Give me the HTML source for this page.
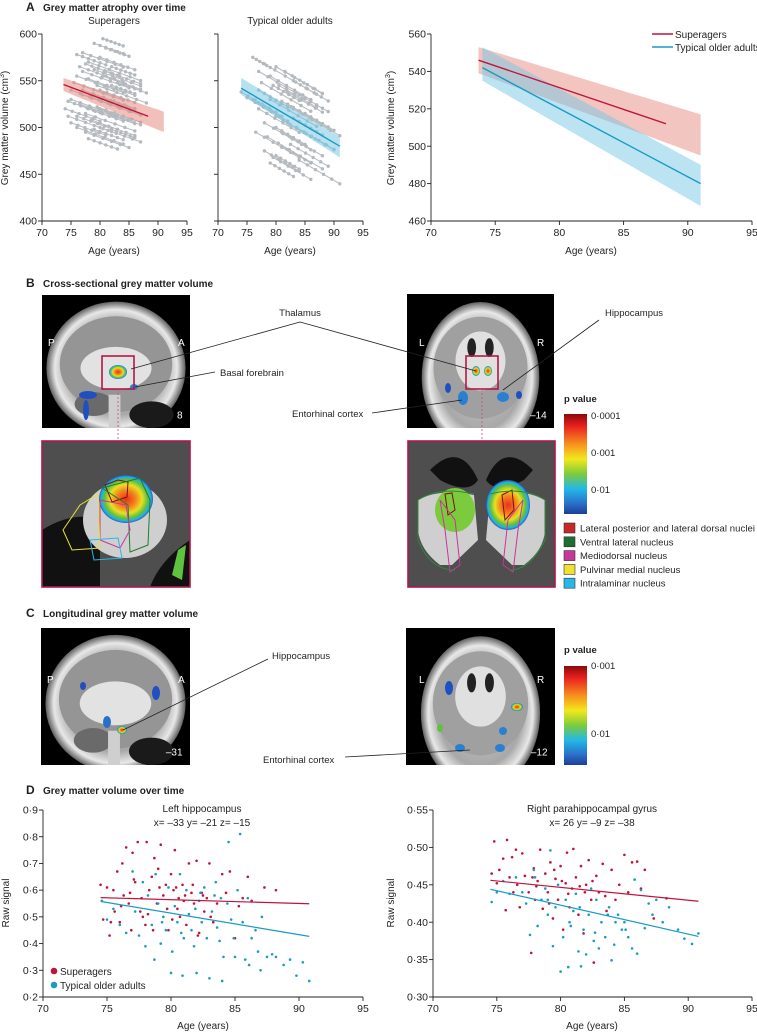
<!DOCTYPE html>
<html><head><meta charset="utf-8"><style>
html,body{margin:0;padding:0;background:#fff}
svg{display:block;font-family:"Liberation Sans",sans-serif}
</style></head><body>
<svg id="fig" width="757" height="1033" viewBox="0 0 757 1033" xmlns="http://www.w3.org/2000/svg">
<defs>
<linearGradient id="pbar" x1="0" y1="0" x2="0" y2="1">
<stop offset="0" stop-color="#8b0a0a"/><stop offset="0.12" stop-color="#e8201e"/><stop offset="0.3" stop-color="#f7901e"/><stop offset="0.45" stop-color="#f2e81c"/><stop offset="0.6" stop-color="#7ccb3c"/><stop offset="0.75" stop-color="#22b8e8"/><stop offset="0.9" stop-color="#2a6ec8"/><stop offset="1" stop-color="#1c3f96"/>
</linearGradient>
<radialGradient id="brainG" cx="0.5" cy="0.5" r="0.5">
<stop offset="0" stop-color="#d0d0d0"/><stop offset="0.7" stop-color="#a8a8a8"/><stop offset="0.88" stop-color="#e8e8e8"/><stop offset="1" stop-color="#606060"/>
</radialGradient>
<radialGradient id="heat" cx="0.5" cy="0.5" r="0.5">
<stop offset="0" stop-color="#e8301e"/><stop offset="0.35" stop-color="#f6801e"/><stop offset="0.6" stop-color="#e8e020"/><stop offset="0.8" stop-color="#60c040"/><stop offset="0.92" stop-color="#20b0e0"/><stop offset="1" stop-color="#2050c0" stop-opacity="0.9"/>
</radialGradient>
</defs>
<g id="root"></g>
</svg>
<script>
// ---------- data ----------
const ageTicks = [70,75,80,85,90,95];
const aLeftTicks = [400,450,500,550,600];
const aRightTicks = [460,480,500,520,540,560];
const superFit = [[73.7,546],[88.3,512]];
const superBandLow = [[73.7,539],[91,495]];
const superBandHigh = [[73.7,553],[91,517]];
const typFit = [[74,542],[91,480]];
const typBandLow = [[74,535],[91,468]];
const typBandHigh = [[74,553],[91,490]];
const superSlope = -2.2;
const typSlope = -3.6;
const superSegments = [[74,520,80],[74.5,512,82],[75,530,83],[75,505,81],[75.5,548,84],[76,578,81],[76,500,84],[76.5,525,86],[77,560,85],[77,540,86],[77.5,515,86],[77.5,495,85],[78,570,87],[78,552,86],[78.5,532,87],[78.5,508,86],[79,590,84],[79,562,87],[79.5,545,88],[79.5,522,87],[80,500,87],[80,575,86],[80.5,555,87],[81,530,86],[81,585,85],[81.5,515,87],[82,565,86],[82,498,86],[76.5,565,84],[77,535,85],[78,520,84],[79,498,84],[80,540,86],[82,545,86],[75,540,83],[76,555,84],[74.5,528,80],[77,580,84],[78,488,83],[80.5,595,84],[76,512,82],[79,535,86],[81,560,87],[83,548,88],[77.5,568,83],[80,520,85]];
const typSegments = [[74,538,80],[75,532,82],[76,575,79],[76.5,495,84],[77,560,85],[77,520,84],[77.5,548,86],[78,568,87],[78,505,86],[78.5,490,88],[79,555,86],[79,530,87],[79.5,468,86],[80,565,88],[80,512,86],[80,470,84],[80.5,545,87],[81,528,89],[81,495,88],[81.5,560,88],[82,538,88],[82,505,90],[82.5,482,89],[83,550,89],[83,520,91],[83.5,500,90],[84,535,89],[84,465,91],[85,515,90],[79,462,83],[78,475,84],[81,480,86],[77,540,82],[79.5,545,84],[82,525,87],[80,500,85],[76,530,81],[83,510,88]];
const dLeftTicks = ["0·2","0·3","0·4","0·5","0·6","0·7","0·8","0·9"];
const dLeftTickVals = [0.2,0.3,0.4,0.5,0.6,0.7,0.8,0.9];
const dRightTicks = ["0·30","0·35","0·40","0·45","0·50","0·55"];
const dRightTickVals = [0.30,0.35,0.40,0.45,0.50,0.55];
const dLeftSuperFit = [[74.5,0.572],[90.8,0.549]];
const dLeftTypFit = [[74.5,0.558],[90.8,0.427]];
const dRightSuperFit = [[74.5,0.456],[90.8,0.428]];
const dRightTypFit = [[74.5,0.444],[90.8,0.381]];
const dLeftSuper = [[74.5,0.62],[74.7,0.49],[75,0.61],[75.2,0.43],[75.5,0.60],[75.6,0.52],[75.8,0.67],[76,0.48],[76.2,0.70],[76.3,0.58],[76.5,0.76],[76.7,0.55],[76.9,0.45],[77,0.74],[77.2,0.63],[77.4,0.78],[77.6,0.52],[77.8,0.50],[78,0.47],[78.1,0.78],[78.3,0.60],[78.5,0.65],[78.7,0.72],[78.9,0.55],[79,0.68],[79.2,0.77],[79.4,0.58],[79.6,0.62],[79.8,0.45],[80,0.66],[80.2,0.60],[80.3,0.75],[80.5,0.53],[80.7,0.50],[80.9,0.62],[81,0.56],[81.2,0.47],[81.4,0.70],[81.6,0.59],[81.8,0.55],[82,0.71],[82.2,0.44],[82.4,0.59],[82.6,0.52],[82.8,0.57],[83,0.70],[83.3,0.48],[83.6,0.55],[84,0.66],[84.3,0.59],[84.6,0.67],[85,0.42],[85.3,0.54],[85.6,0.57],[86,0.65],[86.3,0.56],[87.3,0.61],[88.2,0.60],[75.3,0.48],[76.1,0.54],[77.1,0.64],[78.2,0.51],[79.1,0.61],[80.1,0.49],[81.1,0.58],[82.1,0.43],[83.1,0.50],[79.7,0.53],[80.6,0.57],[81.7,0.62],[77.7,0.57],[78.6,0.45],[80.4,0.61],[82.5,0.58],[76.8,0.59]];
const dLeftTyp = [[74.6,0.56],[75,0.49],[75.5,0.53],[76,0.47],[76.5,0.44],[77,0.67],[77.2,0.52],[77.5,0.43],[77.8,0.63],[78,0.39],[78.2,0.58],[78.5,0.47],[78.7,0.34],[78.8,0.66],[79,0.55],[79.2,0.40],[79.4,0.50],[79.6,0.45],[79.8,0.61],[80,0.29],[80.1,0.37],[80.3,0.54],[80.5,0.48],[80.7,0.66],[80.9,0.28],[81,0.42],[81.2,0.60],[81.4,0.51],[81.6,0.45],[81.8,0.39],[82,0.29],[82.2,0.56],[82.4,0.48],[82.6,0.61],[82.8,0.42],[83,0.27],[83.2,0.52],[83.4,0.58],[83.6,0.46],[83.8,0.41],[84,0.26],[84.1,0.35],[84.4,0.55],[84.5,0.78],[84.7,0.49],[84.9,0.42],[85,0.35],[85.2,0.60],[85.4,0.81],[85.6,0.48],[85.8,0.34],[86,0.57],[86.1,0.32],[86.3,0.42],[86.6,0.45],[86.8,0.37],[87,0.30],[87.1,0.50],[87.5,0.35],[87.9,0.36],[88.2,0.35],[88.8,0.32],[89.3,0.34],[89.8,0.28],[90.3,0.33],[90.8,0.26],[82.3,0.59],[83.5,0.63],[79.3,0.48],[80.8,0.44],[81.9,0.53],[83.9,0.57]];
const dRightSuper = [[74.6,0.465],[74.8,0.508],[75,0.452],[75.2,0.47],[75.5,0.485],[75.7,0.416],[75.8,0.51],[76,0.46],[76.2,0.487],[76.5,0.497],[76.6,0.45],[76.8,0.42],[77,0.492],[77.2,0.462],[77.5,0.44],[77.7,0.359],[77.9,0.472],[78,0.43],[78.2,0.455],[78.4,0.497],[78.6,0.418],[78.8,0.465],[79,0.44],[79.2,0.48],[79.4,0.405],[79.6,0.458],[79.8,0.43],[80,0.475],[80.2,0.39],[80.4,0.452],[80.5,0.493],[80.7,0.42],[80.9,0.445],[81,0.498],[81.2,0.46],[81.4,0.41],[81.6,0.475],[81.8,0.385],[82,0.45],[82.2,0.483],[82.4,0.43],[82.6,0.346],[82.8,0.462],[83,0.44],[83.3,0.478],[83.6,0.415],[84,0.47],[84.3,0.43],[84.6,0.45],[85,0.49],[85.3,0.44],[85.6,0.48],[86,0.481],[86.3,0.445],[86.6,0.47],[87.3,0.405],[88.3,0.432],[76.3,0.44],[77.8,0.46],[79.1,0.425],[80.6,0.438],[81.5,0.448],[82.5,0.455],[83.5,0.435],[78.1,0.448],[80.1,0.455],[81.9,0.44],[79.5,0.47]];
const dRightTyp = [[74.6,0.427],[75,0.44],[75.5,0.455],[76,0.438],[76.5,0.46],[77,0.44],[77.3,0.425],[77.6,0.383],[77.9,0.47],[78.2,0.395],[78.5,0.43],[78.8,0.445],[79,0.41],[79.2,0.496],[79.4,0.368],[79.6,0.42],[79.8,0.45],[80,0.334],[80.2,0.38],[80.4,0.43],[80.6,0.34],[80.8,0.395],[81,0.415],[81.2,0.438],[81.4,0.361],[81.6,0.341],[81.8,0.39],[82,0.357],[82.2,0.41],[82.4,0.445],[82.6,0.375],[82.8,0.43],[83,0.365],[83.2,0.40],[83.5,0.38],[83.8,0.42],[84,0.349],[84.2,0.37],[84.5,0.41],[84.8,0.39],[85,0.40],[85.3,0.38],[85.6,0.365],[85.8,0.457],[86,0.358],[86.3,0.443],[86.6,0.392],[86.9,0.425],[87.2,0.41],[87.5,0.43],[88,0.40],[88.5,0.42],[89.2,0.39],[89.7,0.378],[90.3,0.371],[90.8,0.385],[78,0.46],[79,0.43],[81.5,0.42],[83.7,0.41],[80.7,0.40],[82.7,0.386],[84.3,0.4],[85.1,0.39]];
const legendNuclei = ["Lateral posterior and lateral dorsal nuclei","Ventral lateral nucleus","Mediodorsal nucleus","Pulvinar medial nucleus","Intralaminar  nucleus"];
const legendColors = ["#c62828","#1e6e32","#c8369a","#f0e030","#28b8e8"];

// ---------- helpers ----------
const NS = "http://www.w3.org/2000/svg";
const root = document.getElementById('root');
let clipId = 0;
function el(tag, attrs, parent, text){
  const e = document.createElementNS(NS, tag);
  for (const k in attrs) e.setAttribute(k, attrs[k]);
  if (text !== undefined) e.textContent = text;
  (parent || root).appendChild(e);
  return e;
}
function scale(d0,d1,p0,p1){ return v => p0 + (v-d0)/(d1-d0)*(p1-p0); }
function txt(x,y,s,size,opts,parent){
  opts = opts || {};
  return el('text', Object.assign({x:x,y:y,'font-size':size,fill:'#231f20'}, opts), parent, s);
}
function axes(g, xs, ys, xTicks, yTicks, yLabels, x0, x1, y0, y1){
  const ax = el('g', {}, g);
  
  
  el('line',{x1:x0,y1:y1,x2:x0,y2:y0,stroke:'#231f20','stroke-width':0.9},ax);
  el('line',{x1:x0,y1:y0,x2:x1,y2:y0,stroke:'#231f20','stroke-width':0.9},ax);
  xTicks.forEach(t=>{
    const x = xs(t);
    el('line',{x1:x,y1:y0,x2:x,y2:y0+4,stroke:'#231f20','stroke-width':0.9},ax);
    const tl = txt(x,y0+15,String(t),10.5,{'text-anchor':'middle'},ax);
    
    
  });
  yTicks.forEach((t,i)=>{
    const y = ys(t);
    el('line',{x1:x0-4,y1:y,x2:x0,y2:y,stroke:'#231f20','stroke-width':0.9},ax);
    if (yLabels){
      const tl = txt(x0-5,y+3.6,yLabels[i],10.5,{'text-anchor':'end'},ax);
      
      
    }
  });
  return ax;
}
function band(g, xs, ys, low, high, color){
  const pts = [low[0],low[1],high[1],high[0]].map(p=>xs(p[0])+','+ys(p[1])).join(' ');
  return el('polygon',{points:pts,fill:color},g);
}
function fitLine(g, xs, ys, f, color, w){
  return el('line',{x1:xs(f[0][0]),y1:ys(f[0][1]),x2:xs(f[1][0]),y2:ys(f[1][1]),stroke:color,'stroke-width':w||1.3},g);
}
function segments(g, xs, ys, segs, slope){
  segs.forEach(s=>{
    const v1 = s[1] + slope*(s[2]-s[0]);
    el('line',{x1:xs(s[0]),y1:ys(s[1]),x2:xs(s[2]),y2:ys(v1),stroke:'#b9bec2','stroke-width':1.1},g);
    for (let a=s[0]; a<=s[2]+0.01; a+= (s[2]-s[0])/5){
      el('circle',{cx:xs(a),cy:ys(s[1]+slope*(a-s[0])),r:1.7,fill:'#b4b9bd'},g);
    }
  });
}
function dots(g, xs, ys, pts, color){
  pts.forEach(p=>el('circle',{cx:xs(p[0]),cy:ys(p[1]),r:1.3,fill:color},g));
}
const RED = '#c0143c', BLUE = '#1a9bc4';

function clipTo(g,x,y,w,h){
  const id = 'clip'+(clipId++);
  const defs = document.querySelector('defs');
  const cp = el('clipPath',{id:id},defs);
  el('rect',{x:x,y:y,width:w,height:h},cp);
  const inner = el('g',{'clip-path':'url(#'+id+')'},g);
  return inner;
}

// ---------- Panel A ----------
const gA = el('g',{});


txt(26,11,'A',12,{'font-weight':'bold'},gA);
txt(43,11,'Grey matter atrophy over time',10,{'font-weight':'bold'},gA);
{
  const g = el('g',{},gA);
  
  
  const xs = scale(70,95,42,187), ys = scale(400,600,221,34);
  txt(114,24,'Superagers',10,{'text-anchor':'middle'},g);
  segments(g,xs,ys,superSegments,superSlope);
  const b = band(g,xs,ys,superBandLow,superBandHigh,'rgba(232,140,130,0.55)');
  
  
  const l = fitLine(g,xs,ys,superFit,RED,1.4);
  
  
  axes(g,xs,ys,ageTicks,aLeftTicks,aLeftTicks.map(String),42,187,221,34);
  txt(114,254,'Age (years)',10,{'text-anchor':'middle'},g);
  const yl = txt(0,0,'',10,{transform:'translate(8,128) rotate(-90)','text-anchor':'middle'},g);
  yl.innerHTML = 'Grey matter volume (cm<tspan font-size="7" dy="-4">3</tspan><tspan dy="4">)</tspan>';
  
  
}
{
  const g = el('g',{},gA);
  
  
  const xs = scale(70,95,218,363), ys = scale(400,600,221,34);
  txt(290,24,'Typical older adults',10,{'text-anchor':'middle'},g);
  segments(g,xs,ys,typSegments,typSlope);
  const b = band(g,xs,ys,typBandLow,typBandHigh,'rgba(120,200,230,0.55)');
  
  
  const l = fitLine(g,xs,ys,typFit,BLUE,1.4);
  
  
  axes(g,xs,ys,ageTicks,aLeftTicks,null,218,363,221,34);
  txt(290,254,'Age (years)',10,{'text-anchor':'middle'},g);
}
{
  const g = el('g',{},gA);
  
  
  const xs = scale(70,95,431,752), ys = scale(460,560,221,34);
  const b1 = band(g,xs,ys,superBandLow,superBandHigh,'rgba(232,150,140,0.55)');
  
  
  const b2 = band(g,xs,ys,typBandLow,typBandHigh,'rgba(120,200,230,0.5)');
  
  
  const l1 = fitLine(g,xs,ys,superFit,RED,1.4);
  
  
  const l2 = fitLine(g,xs,ys,typFit,BLUE,1.4);
  
  
  axes(g,xs,ys,ageTicks,aRightTicks,aRightTicks.map(String),431,752,221,34);
  txt(591,254,'Age (years)',10,{'text-anchor':'middle'},g);
  const yl = txt(0,0,'',10,{transform:'translate(394,128) rotate(-90)','text-anchor':'middle'},g);
  yl.innerHTML = 'Grey matter volume (cm<tspan font-size="7" dy="-4">3</tspan><tspan dy="4">)</tspan>';
  
  
  const lg = el('g',{},g);
  
  
  el('line',{x1:652,y1:34,x2:673,y2:34,stroke:RED,'stroke-width':1.4},lg);
  el('line',{x1:652,y1:47,x2:673,y2:47,stroke:BLUE,'stroke-width':1.4},lg);
  txt(675,38,'Superagers',10,{},lg);
  txt(675,51,'Typical older adults',10,{},lg);
}

// ---------- brain drawing ----------
function sagittal(g0,x,y,w,h,label){
  el('rect',{x:x,y:y,width:w,height:h,fill:'#000'},g0);
  const g = clipTo(g0,x,y,w,h);
  el('ellipse',{cx:x+w*0.5,cy:y+h*0.55,rx:w*0.47,ry:h*0.5,fill:'url(#brainG)'},g);
  el('ellipse',{cx:x+w*0.5,cy:y+h*0.52,rx:w*0.38,ry:h*0.36,fill:'#959595'},g);
  el('ellipse',{cx:x+w*0.5,cy:y+h*0.55,rx:w*0.24,ry:h*0.16,fill:'#e2e2e2'},g);
  el('ellipse',{cx:x+w*0.74,cy:y+h*0.9,rx:w*0.15,ry:h*0.1,fill:'#1a1a1a'},g);
  el('ellipse',{cx:x+w*0.35,cy:y+h*0.82,rx:w*0.13,ry:h*0.09,fill:'#6a6a6a'},g);
  el('rect',{x:x+w*0.45,y:y+h*0.75,width:w*0.08,height:h*0.25,fill:'#cfcfcf'},g);
  txt(x+w*0.95,y+h*0.93,label,10,{'text-anchor':'end',fill:'#fff'},g0);
}
function coronal(g0,x,y,w,h,label){
  el('rect',{x:x,y:y,width:w,height:h,fill:'#000'},g0);
  const g = clipTo(g0,x,y,w,h);
  el('ellipse',{cx:x+w*0.5,cy:y+h*0.62,rx:w*0.4,ry:h*0.56,fill:'url(#brainG)'},g);
  el('ellipse',{cx:x+w*0.5,cy:y+h*0.55,rx:w*0.32,ry:h*0.38,fill:'#a0a0a0'},g);
  el('ellipse',{cx:x+w*0.5,cy:y+h*0.5,rx:w*0.17,ry:h*0.22,fill:'#e0e0e0'},g);
  el('ellipse',{cx:x+w*0.44,cy:y+h*0.4,rx:w*0.03,ry:h*0.07,fill:'#222'},g);
  el('ellipse',{cx:x+w*0.56,cy:y+h*0.4,rx:w*0.03,ry:h*0.07,fill:'#222'},g);
  txt(x+w*0.95,y+h*0.93,label,10,{'text-anchor':'end',fill:'#fff'},g0);
}
function blob(g,cx,cy,rx,ry,c){ return el('ellipse',{cx:cx,cy:cy,rx:rx,ry:ry,fill:c},g); }
function ln(g,x1,y1,x2,y2,c,w,dash){ const a={x1:x1,y1:y1,x2:x2,y2:y2,stroke:c||'#231f20','stroke-width':w||0.8}; if(dash)a['stroke-dasharray']=dash; return el('line',a,g); }

// ---------- Panel B ----------
const gB = el('g',{});


txt(26,287,'B',12,{'font-weight':'bold'},gB);
txt(43,287,'Cross-sectional grey matter volume',10,{'font-weight':'bold'},gB);
{
  const s = el('g',{},gB);  
  sagittal(s,42,295,148,133,'8');
  txt(48,346,'P',10,{fill:'#fff'},s); txt(178,346,'A',10,{fill:'#fff'},s);
  blob(s,118,372,9,7,'url(#heat)');
  blob(s,88,395,9,4,'#2050c0'); blob(s,86,410,3,10,'#2050c0'); blob(s,134,387,4,3,'#2a80d0');
  el('rect',{x:102,y:356,width:32,height:33,fill:'none',stroke:'#b01848','stroke-width':1.6},s);
  const c = el('g',{},gB);  
  coronal(c,407,294,147,134,'–14');
  txt(419,346,'L',10,{fill:'#fff'},c); txt(537,346,'R',10,{fill:'#fff'},c);
  blob(c,476,371,4,5,'url(#heat)'); blob(c,488,371,4,5,'url(#heat)');
  blob(c,463,398,5,7,'#2a80d0'); blob(c,503,397,6,5,'#2a80d0'); blob(c,448,388,3,5,'#2050c0'); blob(c,519,395,3,4,'#2050c0');
  el('rect',{x:466,y:356,width:32,height:33,fill:'none',stroke:'#b01848','stroke-width':1.6},c);
  ln(gB,118,389,118,441,'#c0507a',0.8,'2,2'); ln(gB,482,389,482,441,'#c0507a',0.8,'2,2');
  const z1 = el('g',{},gB);  
  el('rect',{x:42,y:441,width:148,height:146,fill:'#4e4e4e'},z1);
  el('path',{d:'M42 530 Q70 512 100 518 L100 587 L42 587 Z',fill:'#111'},z1);
  el('path',{d:'M150 587 Q160 560 190 540 L190 587 Z',fill:'#111'},z1);
  el('ellipse',{cx:125,cy:520,rx:42,ry:38,fill:'#cfcfcf'},z1);
  el('ellipse',{cx:126,cy:499,rx:27,ry:24,fill:'url(#heat)'},z1);
  el('path',{d:'M105 485 L118 480 L128 482 L127 497 L112 502 Z',fill:'none',stroke:'#7a1010','stroke-width':1},z1);
  el('path',{d:'M102 488 L140 478 L150 500 L148 545 L130 552 L128 505 Z',fill:'none',stroke:'#1e7e32','stroke-width':1},z1);
  el('path',{d:'M100 500 L126 505 L130 530 L120 548 L100 540 Z',fill:'none',stroke:'#c8369a','stroke-width':1},z1);
  el('path',{d:'M80 505 L98 494 L100 548 L72 550 L63 530 Z',fill:'none',stroke:'#e8e030','stroke-width':1},z1);
  el('path',{d:'M90 540 L118 538 L122 558 L94 560 Z',fill:'none',stroke:'#28b8e8','stroke-width':1},z1);
  el('path',{d:'M178 550 L186 545 L182 580 L172 575 Z',fill:'#60c040'},z1);
  el('rect',{x:42,y:441,width:148,height:146,fill:'none',stroke:'#b01848','stroke-width':1.6},z1);
  const z2 = el('g',{},gB);  
  el('rect',{x:408,y:441,width:147,height:146,fill:'#4e4e4e'},z2);
  el('path',{d:'M430 470 Q460 440 478 480 Q468 495 440 480 Z',fill:'#111'},z2);
  el('path',{d:'M533 470 Q503 440 486 480 Q496 495 524 480 Z',fill:'#111'},z2);
  el('path',{d:'M418 500 Q440 488 474 495 L478 540 L452 565 L440 565 Q420 550 418 530 Z',fill:'#cfcfcf'},z2);
  el('path',{d:'M545 500 Q523 488 490 495 L486 540 L512 565 L524 565 Q544 550 545 530 Z',fill:'#cfcfcf'},z2);
  el('ellipse',{cx:455,cy:510,rx:20,ry:22,fill:'#7ccb3c'},z2);
  el('ellipse',{cx:508,cy:505,rx:22,ry:25,fill:'url(#heat)'},z2);
  el('path',{d:'M445 494 L452 493 L455 510 L448 515 Z',fill:'none',stroke:'#7a1010','stroke-width':1},z2);
  el('path',{d:'M502 495 L512 490 L514 510 L505 520 Z',fill:'none',stroke:'#7a1010','stroke-width':1},z2);
  el('path',{d:'M440 500 L455 520 L460 565 L450 572 L445 530 Z',fill:'none',stroke:'#c8369a','stroke-width':1},z2);
  el('path',{d:'M523 500 L508 520 L503 565 L513 572 L518 530 Z',fill:'none',stroke:'#c8369a','stroke-width':1},z2);
  el('path',{d:'M418 500 Q440 486 474 494 M490 494 Q523 486 545 500 L545 540 Q530 570 510 570 M418 500 L418 540 Q430 570 455 570',fill:'none',stroke:'#2e8b3a','stroke-width':1},z2);
  el('rect',{x:408,y:441,width:147,height:146,fill:'none',stroke:'#b01848','stroke-width':1.6},z2);
  const lb = el('g',{},gB);  
  txt(300,316,'Thalamus',9.5,{'text-anchor':'middle'},lb);
  txt(634,316,'Hippocampus',9.5,{'text-anchor':'middle'},lb);
  txt(220,376,'Basal forebrain',9.5,{},lb);
  txt(292,417,'Entorhinal cortex',9.5,{},lb);
  ln(lb,300,322,131,369); ln(lb,300,322,476,371);
  ln(lb,215,372,135,387); ln(lb,599,320,503,390); ln(lb,372,413,462,400);
  const cb = el('g',{},gB);  
  txt(564,402,'p value',9.5,{'font-weight':'bold'},cb);
  el('rect',{x:564,y:414,width:23,height:100,fill:'url(#pbar)'},cb);
  txt(591,419,'0·0001',9.5,{},cb); txt(591,456,'0·001',9.5,{},cb); txt(591,493,'0·01',9.5,{},cb);
  const lg = el('g',{},gB);  
  legendNuclei.forEach((n,i)=>{
    const y = 528 + i*13.8;
    el('rect',{x:564,y:y-5,width:11,height:10,fill:legendColors[i],stroke:'#333','stroke-width':0.6},lg);
    const t = txt(580,y+3.5,n,9.5,{},lg);
    
    
    if (i===0) t.setAttribute('textLength','175');
  });
}

// ---------- Panel C ----------
const gC = el('g',{});


txt(26,617,'C',12,{'font-weight':'bold'},gC);
txt(43,617,'Longitudinal grey matter volume',10,{'font-weight':'bold'},gC);
{
  const s = el('g',{},gC);  
  sagittal(s,41,628,149,137,'–31');
  txt(47,683,'P',10,{fill:'#fff'},s); txt(178,683,'A',10,{fill:'#fff'},s);
  blob(s,122,730,5,4,'url(#heat)'); blob(s,107,722,4,6,'#2a70c8'); blob(s,156,693,4,7,'#2050c0'); blob(s,83,686,3,4,'#2050c0');
  const c = el('g',{},gC);  
  coronal(c,406,628,149,137,'–12');
  txt(419,683,'L',10,{fill:'#fff'},c); txt(537,683,'R',10,{fill:'#fff'},c);
  blob(c,449,688,4,7,'#2050c0'); blob(c,517,707,6,4,'url(#heat)'); blob(c,440,728,3,4,'#60c040'); blob(c,503,731,4,4,'#2a80d0'); blob(c,460,748,5,4,'#2a80d0'); blob(c,500,748,5,4,'#2a80d0');
  const lb = el('g',{},gC);  
  txt(272,659,'Hippocampus',9.5,{},lb);
  txt(263,763,'Entorhinal cortex',9.5,{},lb);
  ln(lb,268,659,123,730); ln(lb,345,757,470,750);
  const cb = el('g',{},gC);  
  txt(564,653,'p value',9.5,{'font-weight':'bold'},cb);
  el('rect',{x:564,y:666,width:23,height:99,fill:'url(#pbar)'},cb);
  txt(591,669,'0·001',9.5,{},cb); txt(591,737,'0·01',9.5,{},cb);
}

// ---------- Panel D ----------
const gD = el('g',{});


txt(26,794,'D',12,{'font-weight':'bold'},gD);
txt(43,794,'Grey matter volume over time',10,{'font-weight':'bold'},gD);
{
  const g = el('g',{},gD);  
  const xs = scale(70,95,43,363), ys = scale(0.2,0.9,997,810);
  txt(202,812,'Left hippocampus',10,{'text-anchor':'middle'},g);
  txt(202,826,'x= –33 y= –21 z= –15',10,{'text-anchor':'middle'},g);
  dots(g,xs,ys,dLeftSuper,RED); dots(g,xs,ys,dLeftTyp,BLUE);
  const l1 = fitLine(g,xs,ys,dLeftSuperFit,RED,1.2);  
  const l2 = fitLine(g,xs,ys,dLeftTypFit,BLUE,1.2);  
  axes(g,xs,ys,ageTicks,dLeftTickVals,dLeftTicks,43,363,997,810);
  txt(203,1029,'Age (years)',10,{'text-anchor':'middle'},g);
  const yl = txt(0,0,'Raw signal',10,{transform:'translate(9,903) rotate(-90)','text-anchor':'middle'},g);
   
  const lg = el('g',{},g);  
  el('circle',{cx:54,cy:971,r:3.3,fill:RED},lg); txt(60,975,'Superagers',10,{},lg);
  el('circle',{cx:54,cy:985,r:3.3,fill:BLUE},lg); txt(60,989,'Typical older adults',10,{},lg);
}
{
  const g = el('g',{},gD);  
  const xs = scale(70,95,433,752), ys = scale(0.30,0.55,997,810);
  txt(592,812,'Right parahippocampal gyrus',10,{'text-anchor':'middle'},g);
  txt(592,826,'x= 26 y= –9 z= –38',10,{'text-anchor':'middle'},g);
  dots(g,xs,ys,dRightSuper,RED); dots(g,xs,ys,dRightTyp,BLUE);
  const l1 = fitLine(g,xs,ys,dRightSuperFit,RED,1.2);  
  const l2 = fitLine(g,xs,ys,dRightTypFit,BLUE,1.2);  
  axes(g,xs,ys,ageTicks,dRightTickVals,dRightTicks,433,752,997,810);
  txt(592,1029,'Age (years)',10,{'text-anchor':'middle'},g);
  const yl = txt(0,0,'Raw signal',10,{transform:'translate(394,903) rotate(-90)','text-anchor':'middle'},g);
   
}
</script>
</body></html>
